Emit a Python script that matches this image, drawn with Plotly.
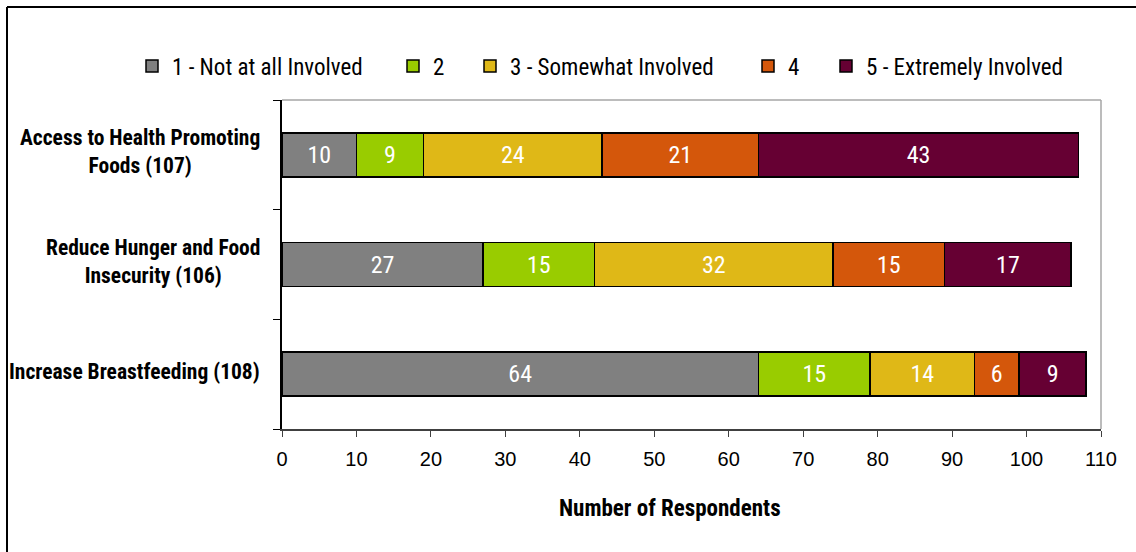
import plotly.graph_objects as go

categories = [
    "Access to Health Promoting<br>Foods (107)",
    "Reduce Hunger and Food<br>Insecurity (106)",
    "Increase Breastfeeding (108)",
]
series_names = [
    "1 - Not at all Involved",
    "2",
    "3 - Somewhat Involved",
    "4",
    "5 - Extremely Involved",
]
values = [
    [10, 27, 64],
    [9, 15, 15],
    [24, 32, 14],
    [21, 15, 6],
    [43, 17, 9],
]
colors = ["#808080", "#99CC00", "#DFB817", "#D4570B", "#660033"]
x_ticks = list(range(0, 111, 10))
x_title = "Number of Respondents"

NARROW = "Roboto Condensed, Liberation Sans Narrow, DejaVu Sans Condensed, sans-serif"

# plot area in pixels
L, R, T, B = 282, 1101, 100, 429
W, H = 1136, 552

def px_x(p):
    return (p - L) / (R - L)

def px_y(p):
    return (B - p) / (B - T)

legend_lefts = [132, 393, 470, 748, 826]

fig = go.Figure()
for i, (name, vals, col) in enumerate(zip(series_names, values, colors)):
    fig.add_trace(go.Bar(
        y=categories, x=vals, name=name, orientation="h",
        marker=dict(color=col, line=dict(color="#000000", width=1.5)),
        text=vals, textposition="inside", insidetextanchor="middle",
        textfont=dict(color="white", size=24, family=NARROW),
        width=0.4,
        legend="legend" if i == 0 else f"legend{i+1}",
    ))

legend_common = dict(
    orientation="h", yanchor="middle", xanchor="left",
    font=dict(size=23, family=NARROW, color="#000000"),
    bgcolor="rgba(0,0,0,0)", borderwidth=0,
)
layout_legends = {}
for i, lx in enumerate(legend_lefts):
    key = "legend" if i == 0 else f"legend{i+1}"
    layout_legends[key] = dict(legend_common, x=px_x(lx), y=px_y(66))

annotations = []
for c in categories:
    annotations.append(dict(
        x=0, xref="paper", y=c, yref="y", xanchor="right", yanchor="middle",
        xshift=-20, yshift=3, text=f"<b>{c}</b>", showarrow=False, align="center",
        font=dict(size=21.5, family=NARROW, color="#000000"),
    ))
annotations.append(dict(
    x=px_x(670), xref="paper", y=px_y(508), yref="paper",
    xanchor="center", yanchor="middle", text=f"<b>{x_title}</b>",
    showarrow=False, font=dict(size=23, family=NARROW, color="#000000"),
))

shapes = [
    # outer frame (left and top)
    dict(type="line", xref="paper", yref="paper", x0=px_x(7), x1=px_x(7),
         y0=px_y(7), y1=px_y(600), line=dict(color="#000000", width=2)),
    dict(type="line", xref="paper", yref="paper", x0=px_x(7), x1=px_x(1150),
         y0=px_y(7), y1=px_y(7), line=dict(color="#000000", width=2)),
    # plot area top and right borders
    dict(type="line", xref="paper", yref="paper", x0=0, x1=1, y0=1, y1=1,
         line=dict(color="#A6A6A6", width=1.5)),
    dict(type="line", xref="paper", yref="paper", x0=1, x1=1, y0=0, y1=1,
         line=dict(color="#A6A6A6", width=1.5)),
]

fig.update_layout(
    width=W, height=H,
    margin=dict(l=L, r=W - R, t=T, b=H - B, pad=0),
    barmode="stack",
    paper_bgcolor="white", plot_bgcolor="white",
    showlegend=True,
    annotations=annotations,
    shapes=shapes,
    **layout_legends,
)
fig.update_xaxes(
    range=[0, 110], tickvals=x_ticks, ticks="outside", ticklen=6,
    tickcolor="#404040", showline=True, linecolor="#404040", linewidth=1.5,
    showgrid=False, zeroline=False, ticklabelstandoff=5,
    tickfont=dict(size=20, family="Liberation Sans, Arial, sans-serif", color="#000000"),
)
fig.update_yaxes(
    categoryorder="array", categoryarray=categories[::-1],
    tickson="boundaries", ticks="outside", ticklen=7, tickcolor="#000000",
    showticklabels=False, showline=True, linecolor="#000000", linewidth=1.5,
    showgrid=False, zeroline=False,
)

fig.write_html("out.html", config={"displayModeBar": False},
               post_script="document.body.style.margin='0';")
